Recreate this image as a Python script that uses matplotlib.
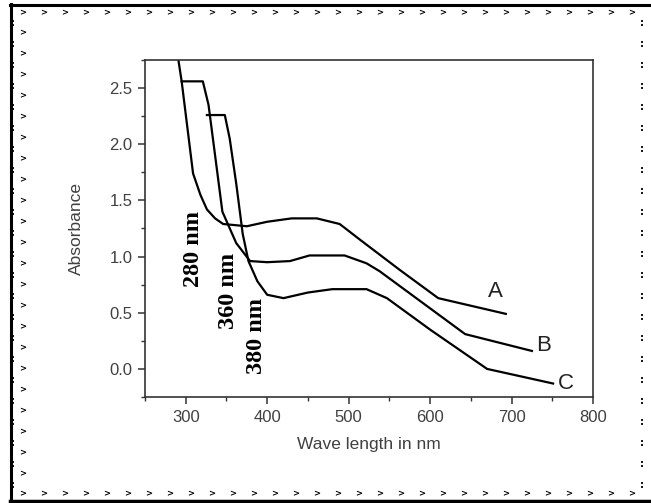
import numpy as np
import matplotlib
matplotlib.use("Agg")
import matplotlib.pyplot as plt
from matplotlib.ticker import MultipleLocator
from matplotlib.lines import Line2D

# curve A (280 nm edge)
wl_a = [291, 295, 309, 318, 326, 336, 346, 375, 400, 430, 461, 489, 514, 563, 610, 693]
abs_a = [2.75, 2.56, 1.74, 1.55, 1.42, 1.34, 1.29, 1.27, 1.31, 1.34, 1.34, 1.29, 1.15, 0.88, 0.63, 0.49]
# curve B (360 nm edge)
wl_b = [295, 321, 328, 345, 362, 379, 400, 428, 452, 495, 522, 538, 643, 725]
abs_b = [2.56, 2.56, 2.35, 1.40, 1.12, 0.96, 0.95, 0.96, 1.01, 1.01, 0.94, 0.87, 0.31, 0.16]
# curve C (380 nm edge)
wl_c = [326, 348, 354, 362, 370, 377, 388, 400, 420, 450, 480, 522, 547, 600, 670, 751]
abs_c = [2.26, 2.26, 2.05, 1.65, 1.20, 0.96, 0.78, 0.66, 0.63, 0.68, 0.71, 0.71, 0.63, 0.35, 0.0, -0.13]

curve_names = ["A", "B", "C"]
edge_labels = ["280 nm", "360 nm", "380 nm"]

fig = plt.figure(figsize=(6.51, 5.03), dpi=100)
ax = fig.add_axes([145 / 651, 1 - 397 / 503, 448 / 651, 337 / 503])

for wl, ab in [(wl_a, abs_a), (wl_b, abs_b), (wl_c, abs_c)]:
    ax.plot(wl, ab, color="black", lw=1.6, solid_joinstyle="round")

ax.set_xlim(250, 800)
ax.set_ylim(-0.25, 2.75)
ax.xaxis.set_minor_locator(MultipleLocator(50))
ax.yaxis.set_minor_locator(MultipleLocator(0.25))
ax.set_yticks(np.arange(0, 2.51, 0.5))
ax.set_yticklabels([f"{v:.1f}" for v in np.arange(0, 2.51, 0.5)])
ax.set_xticks(np.arange(300, 801, 100))

tick_col = "#404040"
for s in ax.spines.values():
    s.set_color("#333333")
    s.set_linewidth(1.2)
ax.tick_params(which="major", direction="out", length=5, width=1.1, color="#333333",
               labelsize=12, labelcolor=tick_col, pad=4)
ax.tick_params(which="minor", direction="out", length=3, width=1.0, color="#333333")
for lbl in ax.get_xticklabels() + ax.get_yticklabels():
    lbl.set_family("Liberation Sans")

ax.set_xlabel("Wave length in nm", family="Liberation Sans", fontsize=12.5, color=tick_col, labelpad=9)
ax.set_ylabel("Absorbance", family="Liberation Sans", fontsize=12.5, color=tick_col, labelpad=18)

# rotated edge labels
edge_pos = [(309, 1.07), (352, 0.69), (387, 0.29)]
for (x, y), t in zip(edge_pos, edge_labels):
    ax.text(x, y, t, rotation=90, ha="center", va="center", family="Liberation Serif",
            fontweight="bold", fontsize=17.5, color="black")

# curve names
name_pos = [(680, 0.69), (739, 0.21), (767, -0.13)]
for (x, y), t in zip(name_pos, curve_names):
    ax.text(x, y, t, ha="center", va="center", family="Liberation Sans",
            fontsize=16, color="#222222")

# decorative page border
W, H = 651, 503
def fx(px):
    return px / W
def fy(py):
    return 1 - py / H

fig.add_artist(Line2D([fx(11), fx(11)], [fy(4), fy(502)], color="black", lw=2.2))
fig.add_artist(Line2D([fx(10), fx(651)], [fy(5), fy(5)], color="black", lw=2.2))
fig.add_artist(Line2D([fx(10), fx(651)], [fy(501), fy(501)], color="black", lw=2.5))

for px in np.arange(23, 640, 21):
    fig.text(fx(px), fy(13), ">", fontsize=6, fontweight="bold", ha="center", va="center")
    fig.text(fx(px), fy(494), ">", fontsize=6, fontweight="bold", ha="center", va="center")
for py in np.arange(33, 490, 21):
    fig.text(fx(23), fy(py), ">", fontsize=6, fontweight="bold", ha="center", va="center")
for py in np.arange(23, 490, 21):
    fig.text(fx(13), fy(py), ":", fontsize=7, fontweight="bold", ha="center", va="center")
for py in np.arange(23, 490, 21):
    fig.text(fx(642), fy(py), ":", fontsize=7, fontweight="bold", ha="center", va="center")

fig.savefig("out.png", dpi=100)
